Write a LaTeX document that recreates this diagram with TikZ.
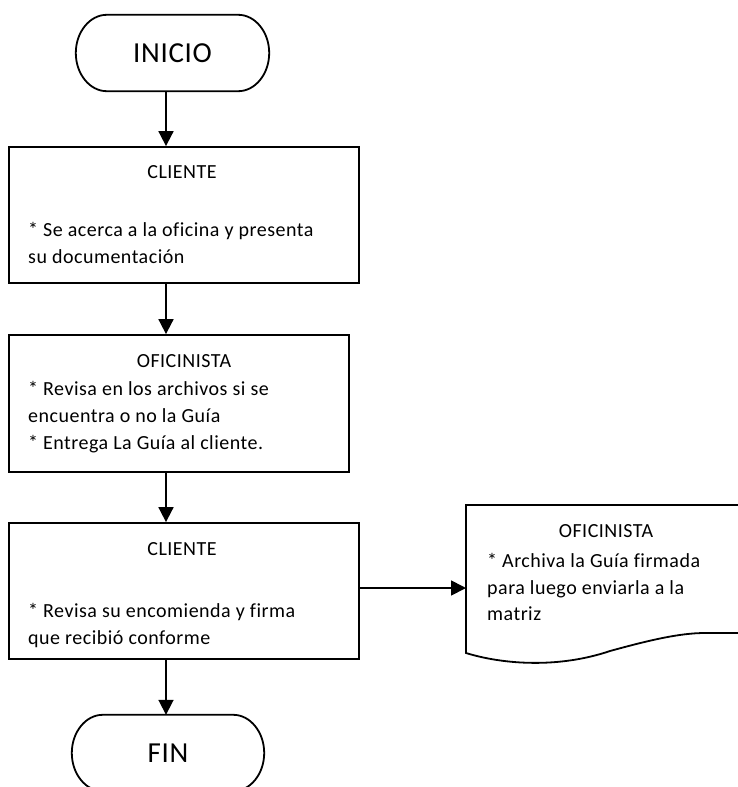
\documentclass[tikz,border=0pt]{standalone}
\usepackage{fontspec}
\setmainfont{Carlito}[LetterSpace=2.5,Ligatures=NoCommon]
\usetikzlibrary{calc,arrows.meta}

% Outline of a terminator (start/end) shape around an empty node
\newcommand\termoutline[1]{%
  \draw[outline] ($(#1.north west)+(31,0)$) -- ($(#1.north east)+(-31,0)$)
    .. controls ($(#1.north east)+(-14,0)$) and ($(#1.east)+(0,-21)$) .. (#1.east)
    .. controls ($(#1.east)+(0,21)$) and ($(#1.south east)+(-14,0)$) .. ($(#1.south east)+(-31,0)$)
    -- ($(#1.south west)+(31,0)$)
    .. controls ($(#1.south west)+(14,0)$) and ($(#1.west)+(0,21)$) .. (#1.west)
    .. controls ($(#1.west)+(0,-21)$) and ($(#1.north west)+(14,0)$) .. ($(#1.north west)+(31,0)$)
    -- cycle;}

\begin{document}
\begin{tikzpicture}[x=1pt,y=-1pt,
  outline/.style={draw=black,line width=1.8pt},
  flow/.style={draw=black,line width=1.8pt,-{Triangle[length=15pt,width=15pt]}},
  stepbox/.style={outline,fill=white,inner sep=0pt,rectangle},
  termnode/.style={inner sep=0pt,minimum width=193pt,minimum height=76pt,
    font=\fontsize{29}{34}\selectfont},
  txt/.style={inner sep=0pt,anchor=base west,font=\fontsize{20}{27}\selectfont},
  ttl/.style={inner sep=0pt,anchor=base,font=\fontsize{20}{27}\selectfont}]

\useasboundingbox (0,0) rectangle (738,787);
\clip (0,0) rectangle (738,787);
\fill[white] (0,0) rectangle (738,787);

% column of the vertical connectors
\coordinate (ax) at (166,0);
% height of the side connector
\coordinate (ay) at (0,588);

% start / end
\node[termnode] (inicio) at (172.5,53) {INICIO};
\termoutline{inicio}
\node[termnode,minimum width=192pt] (fin) at (168,753) {FIN};
\termoutline{fin}

% process boxes
\node[stepbox,minimum width=350pt,minimum height=136pt] (c1) at (184,215) {};
\node[stepbox,minimum width=340pt,minimum height=137pt] (o1) at (179,403.5) {};
\node[stepbox,minimum width=350pt,minimum height=136pt] (c2) at (184,591) {};

% document shape
\node[inner sep=0pt,minimum width=280pt,minimum height=148pt,anchor=north west] (doc) at (466,505) {};
\draw[outline] ($(doc.north west)+(290,0)$) -- (doc.north west) -- (466,653)
  .. controls (505,665) and (560,668) .. (610,651)
  .. controls (650,640) and (680,633) .. (705,633) -- (750,633);

% texts
\node[ttl] (c1t) at (182,178) {CLIENTE};
\node[txt] (c1a) at (28,236) {* Se acerca a la oficina y presenta};
\node[txt] (c1b) at (28,263) {su documentación};

\node[ttl] (o1t) at (184,367) {OFICINISTA};
\node[txt] (o1a) at (28,395) {* Revisa en los archivos si se};
\node[txt] (o1b) at (28,422) {encuentra o no la Guía};
\node[txt] (o1c) at (28,449) {* Entrega La Guía al cliente.};

\node[ttl] (c2t) at (182,555) {CLIENTE};
\node[txt] (c2a) at (28,617) {* Revisa su encomienda y firma};
\node[txt] (c2b) at (28,644) {que recibió conforme};

\node[ttl] (doct) at (606,537) {OFICINISTA};
\node[txt] (doca) at (487,567) {* Archiva la Guía firmada};
\node[txt] (docb) at (487,594) {para luego enviarla a la};
\node[txt] (docc) at (487,620) {matriz};

% connectors
\draw[flow] (inicio.south -| ax) -- (c1.north -| ax);
\draw[flow] (c1.south -| ax) -- (o1.north -| ax);
\draw[flow] (o1.south -| ax) -- (c2.north -| ax);
\draw[flow] (c2.south -| ax) -- (fin.north -| ax);
\draw[flow] (c2.east |- ay) -- (doc.west |- ay);
\end{tikzpicture}
\end{document}
